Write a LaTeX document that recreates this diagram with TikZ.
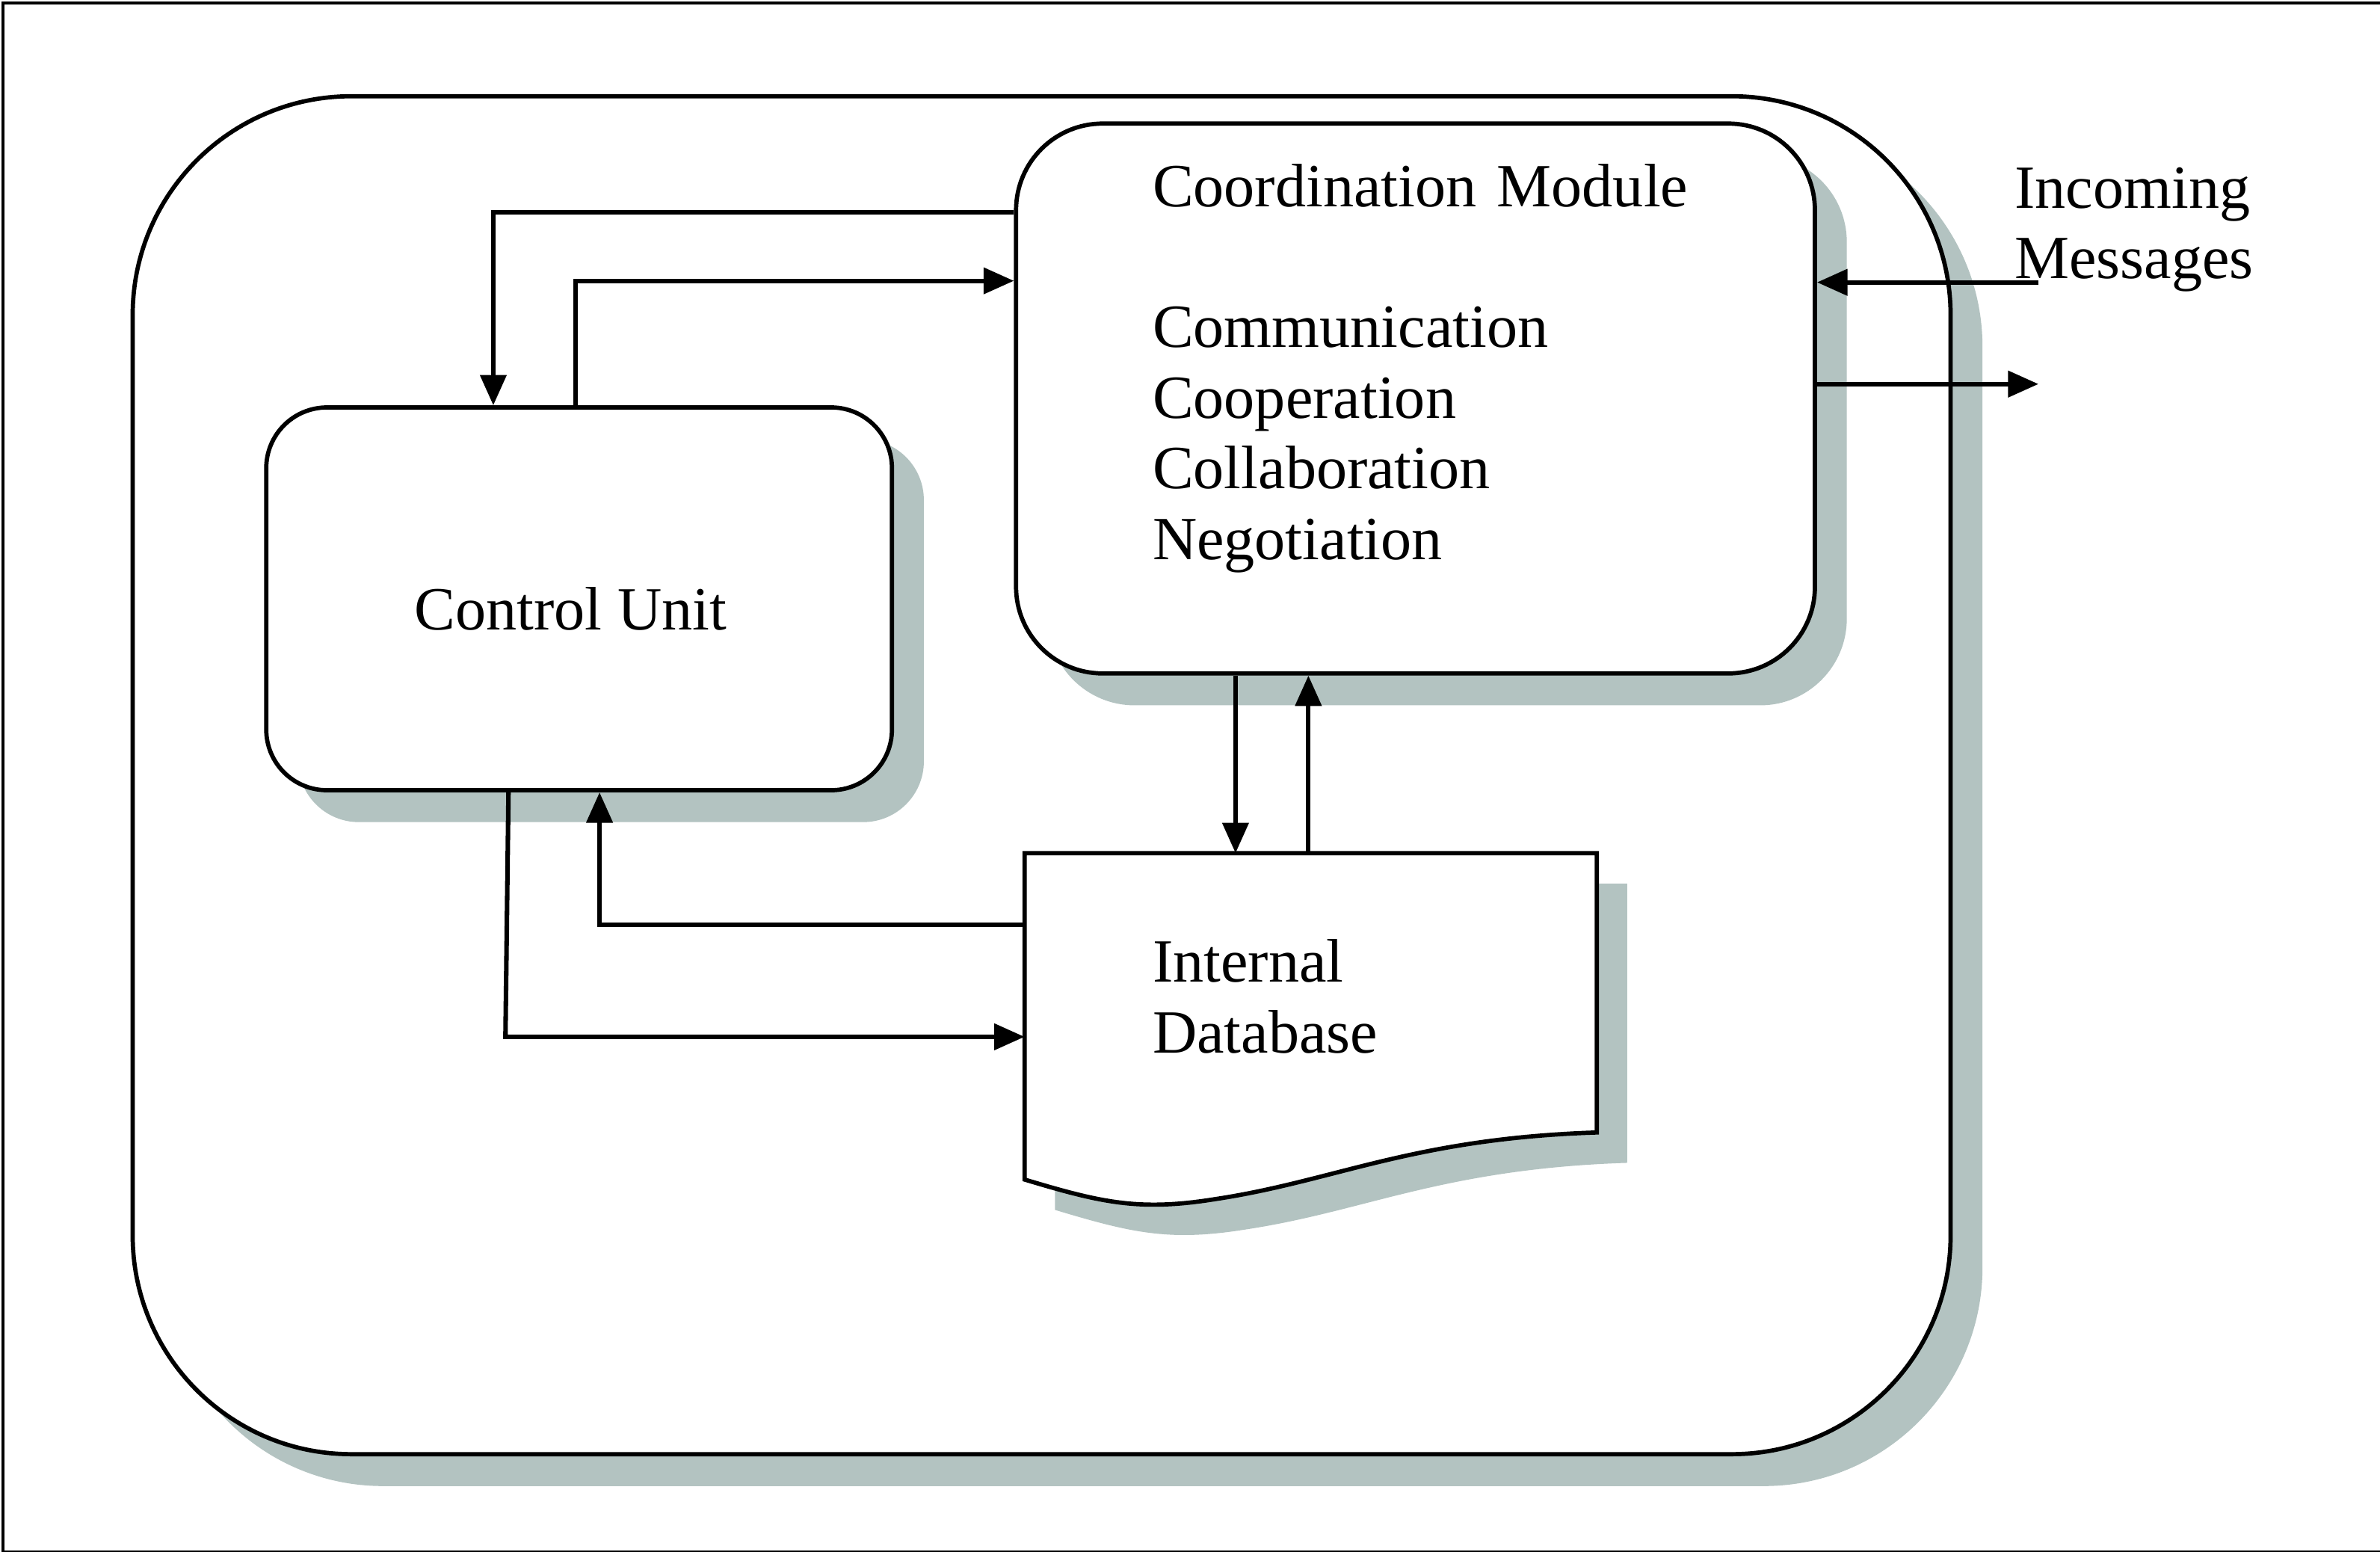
\documentclass[tikz,border=0pt]{standalone}
\usepackage{fontspec}
\setmainfont{Liberation Serif}
\usetikzlibrary{arrows.meta,shadows}
\definecolor{shadowgray}{RGB}{179,195,193}
\begin{document}
\begin{tikzpicture}[x=0.01cm,y=-0.01cm,
  line width=0.8pt,
  fnt/.style={font=\fontsize{11.5pt}{13.23pt}\selectfont},
  txt/.style={fnt, inner sep=0pt, anchor=base west, align=left, text width=5cm},
  box/.style={draw=black, fill=white, rectangle, inner sep=0pt,
    drop shadow={shadow xshift=0.21cm, shadow yshift=-0.21cm, fill=shadowgray, opacity=1}},
  arr/.style={-{Triangle[length=0.2cm,width=0.17cm]}, line width=0.85pt},
]
\useasboundingbox (0,0) rectangle (1568,1022);
\node[draw, line width=0.6pt, minimum width=15.66cm, minimum height=10.20cm,
      anchor=north west, inner sep=0pt] (frame) at (1,1) {};

\node[box, rounded corners=1.44cm, minimum width=11.97cm, minimum height=8.94cm,
      anchor=north west] (agent) at (86,62) {};
\node[box, rounded corners=0.57cm, minimum width=5.26cm, minimum height=3.62cm,
      anchor=north west] (cm) at (668,80) {};
\node[box, rounded corners=0.40cm, minimum width=4.12cm, minimum height=2.52cm,
      anchor=north west] (cu) at (174,267) {};

% internal database (document shape)
\node[inner sep=0pt, minimum width=3.77cm, minimum height=2.15cm,
      anchor=north west] (db) at (675,562) {};
\fill[shadowgray, shift={(20,20)}] (675,562) -- (1052,562) -- (1052,746)
  .. controls (930,750) and (880,778) .. (800,790)
  .. controls (750,798) and (725,792) .. (675,777) -- cycle;
\draw[fill=white] (675,562) -- (1052,562) -- (1052,746)
  .. controls (930,750) and (880,778) .. (800,790)
  .. controls (750,798) and (725,792) .. (675,777) -- cycle;

% texts
\node[txt] (cmtitle) at (758,136) {Coordination Module};
\node[txt] (cmlist) at (758,229) {Communication\\Cooperation\\Collaboration\\Negotiation};
\node[fnt, inner sep=0pt, anchor=base] (cutext) at (376,415) {Control Unit};
\node[txt] (dbtext) at (758,647) {Internal\\Database};
\node[txt] (msg) at (1326,137) {Incoming\\Messages};

% connectors
\coordinate (inmsg) at (1343,186);
\coordinate (outmsg) at (1343,253);
\draw[arr] (cm.west |- 0,140) -- (325,140) -- (cu.north -| 325,0);
\draw[arr] (cu.north -| 379,0) -- (379,185) -- (cm.west |- 0,185);
\draw[arr] (cm.south -| 814,0) -- (db.north -| 814,0);
\draw[arr] (db.north -| 862,0) -- (cm.south -| 862,0);
\draw[arr] (db.west |- 0,609) -- (395,609) -- (cu.south -| 395,0);
\draw[arr] (cu.south -| 335,0) -- (333,683) -- (db.west |- 0,683);
\draw[arr] (inmsg) -- (cm.east |- inmsg);
\draw[arr] (cm.east |- outmsg) -- (outmsg);
\end{tikzpicture}
\end{document}
